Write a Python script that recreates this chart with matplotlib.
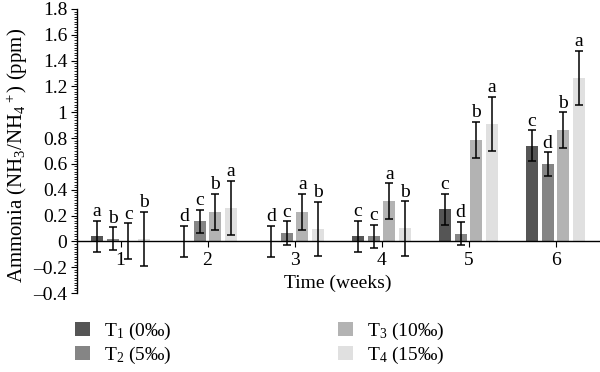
import matplotlib
matplotlib.use("Agg")
import matplotlib.pyplot as plt
import numpy as np
from matplotlib.ticker import MultipleLocator, FuncFormatter
from matplotlib.patches import Patch

plt.rcParams['font.family'] = ['Liberation Serif', 'DejaVu Serif']
plt.rcParams['mathtext.fontset'] = 'custom'
plt.rcParams['mathtext.rm'] = 'Liberation Serif'
plt.rcParams['mathtext.it'] = 'Liberation Serif:italic'
plt.rcParams['font.size'] = 14

weeks = ['1', '2', '3', '4', '5', '6']
series = ['T$_1$ (0‰)', 'T$_2$ (5‰)', 'T$_3$ (10‰)', 'T$_4$ (15‰)']
colors = ['#555555', '#858585', '#b3b3b3', '#e0e0e0']

t1 = [0.04, 0.0, 0.0, 0.04, 0.25, 0.74]
t2 = [0.02, 0.155, 0.065, 0.04, 0.06, 0.60]
t3 = [0.0, 0.23, 0.23, 0.31, 0.785, 0.86]
t4 = [0.02, 0.26, 0.095, 0.10, 0.91, 1.265]
values = [t1, t2, t3, t4]

e1 = [0.12, 0.12, 0.12, 0.12, 0.12, 0.12]
e2 = [0.09, 0.09, 0.09, 0.09, 0.09, 0.09]
e3 = [0.14, 0.14, 0.14, 0.14, 0.14, 0.14]
e4 = [0.21, 0.21, 0.21, 0.21, 0.21, 0.21]
errors = [e1, e2, e3, e4]

l1 = ['a', 'd', 'd', 'c', 'c', 'c']
l2 = ['b', 'c', 'c', 'c', 'd', 'd']
l3 = ['c', 'b', 'a', 'a', 'b', 'b']
l4 = ['b', 'a', 'b', 'b', 'a', 'a']
letters = [l1, l2, l3, l4]

fig = plt.figure(figsize=(6, 3.72), dpi=100)
ax = fig.add_axes([77/600, 1-293/372, 522/600, 284/372])

x = np.arange(1, len(weeks) + 1)
spacing = 0.18
width = 0.14
for i in range(4):
    pos = x + (i - 1.5) * spacing
    ax.bar(pos, values[i], width, color=colors[i], zorder=2)
    ax.errorbar(pos, values[i], yerr=errors[i], fmt='none', ecolor='black',
                elinewidth=1.1, capsize=3, capthick=1.1, zorder=3)
    for p, v, e, t in zip(pos, values[i], errors[i], letters[i]):
        ax.text(p, v + e + 0.005, t, ha='center', va='bottom', fontsize=14)

ax.set_xlim(0.5, 6.5)
ax.set_ylim(-0.4, 1.8)
ax.spines['top'].set_visible(False)
ax.spines['right'].set_visible(False)
ax.spines['bottom'].set_position(('data', 0))
ax.spines['left'].set_linewidth(1.0)
ax.spines['bottom'].set_linewidth(1.0)

ax.set_xticks(x)
ax.set_xticklabels(weeks, fontsize=14)
ax.tick_params(axis='x', direction='out', length=4, pad=4)
ax.yaxis.set_major_locator(MultipleLocator(0.2))
ax.yaxis.set_minor_locator(MultipleLocator(0.02))
ax.yaxis.set_major_formatter(FuncFormatter(lambda v, p: f'{round(v, 1):g}'.replace('-', '\u2013')))
ax.tick_params(axis='y', which='major', direction='out', length=4, labelsize=14, pad=3)
ax.tick_params(axis='y', which='minor', direction='out', length=2.5)

fig.text(338/600, 1-283/372, 'Time (weeks)', ha='center', va='center', fontsize=14)
fig.text(17/600, 1-155/372, 'Ammonia (NH$_3$/NH$_4$$^+$) (ppm)', rotation=90,
         ha='center', va='center', fontsize=15)

handles = [Patch(facecolor=c, edgecolor='none') for c in colors]
for k, xpos in enumerate([75/600, 338/600]):
    fig.legend(handles[2*k:2*k+2], series[2*k:2*k+2], loc='upper left',
               bbox_to_anchor=(xpos, 1-321/372), frameon=False, borderpad=0,
               borderaxespad=0, handlelength=0.75, handleheight=0.75,
               handletextpad=0.75, labelspacing=0.15, fontsize=14)

fig.savefig('out.png', dpi=100)
